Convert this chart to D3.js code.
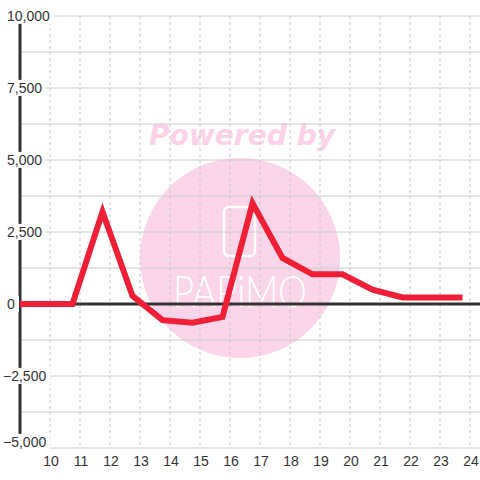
<!DOCTYPE html>
<html>
<head>
<meta charset="utf-8">
<script src="https://cdn.jsdelivr.net/npm/d3@7"></script>
<style>
  html, body { margin: 0; padding: 0; background: #fff; }
  svg { display: block; font-family: "Liberation Sans", Arial, sans-serif; }
</style>
</head>
<body>
<div id="chart"></div>
<script>
"use strict";

// data (x in hours, y in value)
const hours = [8.75, 9.75, 10.75, 11.75, 12.75, 13.75, 14.75, 15.75, 16.75, 17.75, 18.75, 19.75, 20.75, 21.75, 22.75, 23.75];
const values = [0, 0, 0, 3200, 280, -560, -650, -450, 3500, 1600, 1030, 1030, 500, 230, 230, 230];
const xTicks = [10, 11, 12, 13, 14, 15, 16, 17, 18, 19, 20, 21, 22, 23, 24];
const yTicks = [-5000, -2500, 0, 2500, 5000, 7500, 10000];
const yGrid = [-5000, -3750, -2500, -1250, 0, 1250, 2500, 3750, 5000, 6250, 7500, 8750, 10000];

const width = 480, height = 480;
const plotLeft = 20, plotRight = 480, plotTop = 16, plotBottom = 448;

const x = d3.scaleLinear().domain([9, 9 + (plotRight - plotLeft) / 30]).range([plotLeft, plotRight]);
const y = d3.scaleLinear().domain([-5000, 10000]).range([plotBottom, plotTop]);

const svg = d3.select("#chart").append("svg")
    .attr("width", width)
    .attr("height", height);

svg.append("rect").attr("width", width).attr("height", height).attr("fill", "#fff");

// watermark (below grid)
const wm = svg.append("g");
wm.append("circle").attr("cx", 240).attr("cy", 258).attr("r", 100).attr("fill", "#fbd5ea");
wm.append("text")
    .attr("x", 242).attr("y", 145)
    .attr("text-anchor", "middle")
    .attr("font-family", "DejaVu Sans")
    .attr("font-weight", "bold")
    .attr("font-style", "italic")
    .attr("font-size", 28)
    .attr("textLength", 186)
    .attr("fill", "#fbd2e7")
    .text("Powered by");
wm.append("rect")
    .attr("x", 224).attr("y", 207).attr("width", 31).attr("height", 49).attr("rx", 5)
    .attr("fill", "none").attr("stroke", "#fff").attr("stroke-width", 2.5);
wm.append("text")
    .attr("x", 240).attr("y", 307)
    .attr("text-anchor", "middle")
    .attr("font-family", "Lato")
    .attr("font-weight", 300)
    .attr("font-size", 43)
    .attr("textLength", 134)
    .attr("lengthAdjust", "spacingAndGlyphs")
    .attr("fill", "#fff")
    .text("PAPiMO");

// horizontal grid
svg.append("g").selectAll("line")
    .data(yGrid)
    .enter().append("line")
    .attr("x1", plotLeft).attr("x2", plotRight)
    .attr("y1", d => y(d)).attr("y2", d => y(d))
    .attr("stroke", "#cccccc").attr("stroke-width", 1);

// vertical dashed grid
svg.append("g").selectAll("line")
    .data(xTicks)
    .enter().append("line")
    .attr("x1", d => x(d)).attr("x2", d => x(d))
    .attr("y1", plotTop).attr("y2", plotBottom)
    .attr("stroke", "#c8c8c8").attr("stroke-width", 1)
    .attr("stroke-dasharray", "3,3");

// y axis line and zero line
svg.append("line")
    .attr("x1", plotLeft).attr("x2", plotLeft).attr("y1", plotTop).attr("y2", plotBottom)
    .attr("stroke", "#333").attr("stroke-width", 3);
svg.append("line")
    .attr("x1", plotLeft).attr("x2", plotRight).attr("y1", y(0)).attr("y2", y(0))
    .attr("stroke", "#333").attr("stroke-width", 3);

// the series line
svg.append("clipPath").attr("id", "plot")
    .append("rect").attr("x", plotLeft).attr("y", 0).attr("width", plotRight - plotLeft).attr("height", height);

const line = d3.line()
    .x((d, i) => x(hours[i]))
    .y(d => y(d));

svg.append("path")
    .datum(values)
    .attr("clip-path", "url(#plot)")
    .attr("d", line)
    .attr("fill", "none")
    .attr("stroke", "#ee1f37")
    .attr("stroke-width", 6)
    .attr("stroke-linejoin", "miter");

// y labels with white backing; bottom one nudged up to stay inside
const yl = svg.append("g").selectAll("g")
    .data(yTicks)
    .enter().append("g");
yl.append("text")
    .attr("x", d => d < 0 ? 3 : 7)
    .attr("y", d => d === -5000 ? y(d) - 6 : y(d))
    .attr("dy", "0.35em")
    .attr("font-size", 14)
    .attr("fill", "#333")
    .text(d => d3.format(",")(d))
    .each(function () {
        const b = this.getBBox();
        d3.select(this.parentNode).insert("rect", "text")
            .attr("x", b.x - 1).attr("y", b.y)
            .attr("width", b.width + 5).attr("height", b.height)
            .attr("fill", "#fff");
    });

// x labels
svg.append("g").selectAll("text")
    .data(xTicks)
    .enter().append("text")
    .attr("x", d => x(d) + 1)
    .attr("y", 461)
    .attr("dy", "0.35em")
    .attr("text-anchor", "middle")
    .attr("font-size", 14)
    .attr("fill", "#333")
    .text(d => d);
</script>
</body>
</html>
